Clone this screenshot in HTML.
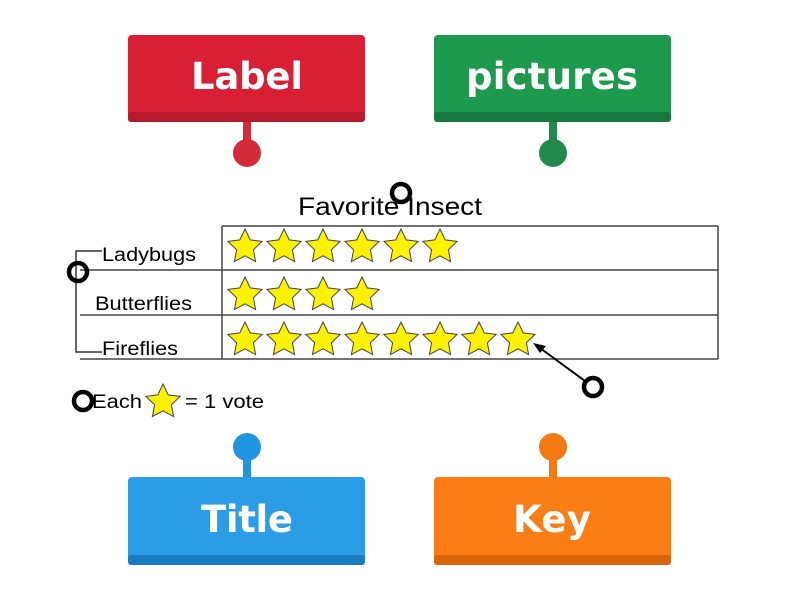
<!DOCTYPE html>
<html><head><style>body{margin:0;background:#fff}svg{display:block}</style></head><body>
<svg width="800" height="600" viewBox="0 0 800 600" xmlns="http://www.w3.org/2000/svg" font-family="'Liberation Sans', Arial, sans-serif">
<defs>
<polygon id="st" points="0,-18 5.2,-7.1 17.1,-5.6 8.4,2.8 10.6,14.6 0,8.8 -10.6,14.6 -8.4,2.8 -17.1,-5.6 -5.2,-7.1" fill="#fef200" stroke="#444" stroke-width="1"/>
</defs>
<rect x="243" y="118" width="8" height="30" fill="#d42a3a"/>
<circle cx="247" cy="153" r="14" fill="#d42a3a"/>
<rect x="128" y="35" width="237" height="87" rx="4" fill="#d81f34"/>
<rect x="128" y="112" width="237" height="10" rx="3" fill="#b81a2c"/>
<text x="247" y="89" font-size="37" font-weight="bold" fill="#fff" text-anchor="middle" font-family="'DejaVu Sans', sans-serif" textLength="112">Label</text>
<rect x="549" y="118" width="8" height="30" fill="#1f8a4c"/>
<circle cx="553" cy="153" r="14" fill="#1f8a4c"/>
<rect x="434" y="35" width="237" height="87" rx="4" fill="#1e9a4e"/>
<rect x="434" y="112" width="237" height="10" rx="3" fill="#17773c"/>
<text x="552" y="89" font-size="37" font-weight="bold" fill="#fff" text-anchor="middle" font-family="'DejaVu Sans', sans-serif" textLength="172">pictures</text>
<rect x="243" y="450" width="8" height="30" fill="#2196e0"/>
<circle cx="247" cy="447" r="14" fill="#2196e0"/>
<rect x="128" y="477" width="237" height="88" rx="4" fill="#2a9de6"/>
<rect x="128" y="555" width="237" height="10" rx="3" fill="#1a7cc0"/>
<text x="247" y="532" font-size="37" font-weight="bold" fill="#fff" text-anchor="middle" font-family="'DejaVu Sans', sans-serif" textLength="92">Title</text>
<rect x="549" y="450" width="8" height="30" fill="#f37a12"/>
<circle cx="553" cy="447" r="14" fill="#f37a12"/>
<rect x="434" y="477" width="237" height="88" rx="4" fill="#fb7d16"/>
<rect x="434" y="555" width="237" height="10" rx="3" fill="#d8650a"/>
<text x="552" y="532" font-size="37" font-weight="bold" fill="#fff" text-anchor="middle" font-family="'DejaVu Sans', sans-serif" textLength="78">Key</text>
<text x="298" y="215" font-size="25" textLength="184" lengthAdjust="spacingAndGlyphs">Favorite Insect</text>
<g stroke="#444" stroke-width="1.5" fill="none">
<line x1="222" y1="226" x2="718" y2="226"/>
<line x1="80" y1="270" x2="718" y2="270"/>
<line x1="80" y1="315" x2="718" y2="315"/>
<line x1="80" y1="359" x2="718" y2="359"/>
<line x1="222" y1="226" x2="222" y2="359"/>
<line x1="718" y1="226" x2="718" y2="359"/>
<polyline points="102,251 76,251 76,352 102,352" stroke="#333"/>
</g>
<text x="102" y="261" font-size="19" textLength="94" lengthAdjust="spacingAndGlyphs">Ladybugs</text>
<text x="95" y="310" font-size="19" textLength="97" lengthAdjust="spacingAndGlyphs">Butterflies</text>
<text x="102" y="355" font-size="19" textLength="76" lengthAdjust="spacingAndGlyphs">Fireflies</text>
<g>
<use href="#st" x="245" y="247"/><use href="#st" x="284" y="247"/><use href="#st" x="323" y="247"/><use href="#st" x="362" y="247"/><use href="#st" x="401" y="247"/><use href="#st" x="440" y="247"/>
<use href="#st" x="245" y="295"/><use href="#st" x="284" y="295"/><use href="#st" x="323" y="295"/><use href="#st" x="362" y="295"/>
<use href="#st" x="245" y="340"/><use href="#st" x="284" y="340"/><use href="#st" x="323" y="340"/><use href="#st" x="362" y="340"/><use href="#st" x="401" y="340"/><use href="#st" x="440" y="340"/><use href="#st" x="479" y="340"/><use href="#st" x="518" y="340"/>
<use href="#st" x="163" y="402"/>
</g>
<text x="92" y="408" font-size="19" textLength="50" lengthAdjust="spacingAndGlyphs">Each</text>
<text x="185" y="408" font-size="19" textLength="79" lengthAdjust="spacingAndGlyphs">= 1 vote</text>
<line x1="585" y1="381" x2="540" y2="348" stroke="#000" stroke-width="2"/>
<polygon points="533,343 546,346 540,353" fill="#000"/>
<g fill="none" stroke="#000" stroke-width="4.5">
<circle cx="78" cy="272" r="9"/>
<circle cx="401" cy="193" r="9"/>
<circle cx="593" cy="387" r="9"/>
<circle cx="83" cy="401" r="9"/>
</g>
</svg>
</body></html>
